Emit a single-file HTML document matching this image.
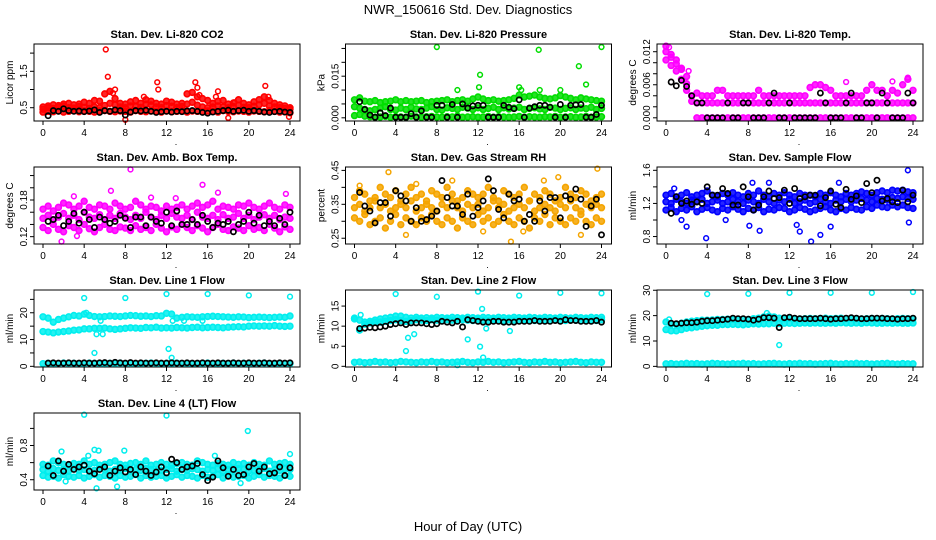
<!DOCTYPE html>
<html><head><meta charset="utf-8">
<style>
html,body{margin:0;padding:0;background:#fff;}
svg{display:block;font-family:"Liberation Sans",sans-serif;}
</style></head>
<body>
<svg id="chart" width="936" height="540" viewBox="0 0 936 540" xmlns="http://www.w3.org/2000/svg">
<rect x="0" y="0" width="936" height="540" fill="#fff"/>
<text x="468" y="14" text-anchor="middle" font-size="13">NWR_150616  Std. Dev. Diagnostics</text>
<text x="468" y="531" text-anchor="middle" font-size="13">Hour of Day (UTC)</text>
</svg>
<script>
const H = [0,0.5,1,1.5,2,2.5,3,3.5,4,4.5,5,5.5,6,6.5,7,7.5,8,8.5,9,9.5,10,10.5,11,11.5,12,12.5,13,13.5,14,14.5,15,15.5,16,16.5,17,17.5,18,18.5,19,19.5,20,20.5,21,21.5,22,22.5,23,23.5,24];
const xTicks = [0,4,8,12,16,20,24];

// P1 CO2
const co2R1 = [.38,.40,.39,.41,.38,.40,.42,.39,.41,.40,.38,.41,.42,.40,.39,.41,.40,.38,.42,.40,.39,.41,.40,.38,.41,.39,.40,.42,.38,.41,.40,.39,.41,.40,.38,.42,.40,.39,.41,.40,.38,.41,.40,.39,.42,.40,.38,.39,.36];
const co2R2 = [.46,.50,.48,.52,.55,.50,.49,.53,.51,.48,.52,.50,.56,.62,.58,.52,.50,.55,.53,.51,.60,.58,.52,.50,.56,.54,.50,.53,.60,.65,.57,.52,.50,.52,.55,.52,.50,.53,.57,.51,.50,.54,.58,.62,.55,.52,.50,.48,.46];
const co2R3 = [.52,.55,.58,.56,.60,.62,.58,.60,.65,.62,.70,.68,.88,.95,.75,.62,.60,.66,.70,.62,.72,.68,.62,.60,.68,.65,.60,.62,.88,.92,.80,.75,.70,.62,.68,.70,.60,.63,.72,.62,.58,.66,.72,.80,.70,.62,.58,.55,.50];
const co2OutX = [6.1,6.3,7.0,6.8,11.1,11.2,14.8,15.0,15.2,17.0,16.8,18.6,21.6,21.9,8.0,18.0,23.9,9.8];
const co2OutY = [2.1,1.35,1.0,0.9,1.2,1.0,1.2,1.05,0.85,0.95,0.8,0.65,1.1,0.8,0.17,0.22,0.25,0.8];
const co2Black = [.28,.42,.40,.47,.42,.40,.41,.39,.41,.44,.37,.42,.40,.44,.42,.30,.38,.42,.41,.43,.40,.37,.39,.40,.38,.40,.39,.41,.42,.40,.37,.35,.38,.40,.42,.43,.40,.42,.43,.40,.42,.40,.38,.37,.39,.40,.38,.37];

// P2 Pressure
const prR1 = [.0008,.0012,.0006,.0004,.0002,.0003,.0005,.0002,.0004,.0003,.0002,.0006,.0003,.0002,.0004,.0005,.0003,.0002,.0004,.0003,.0006,.0002,.0003,.0004,.0002,.0003,.0005,.0002,.0004,.0003,.0002,.0003,.0005,.0002,.0004,.0003,.0002,.0004,.0003,.0005,.0002,.0003,.0004,.0002,.0003,.0005,.0002,.0003,.0004];
const prR2 = [.004,.0035,.003,.0025,.003,.0035,.004,.003,.0028,.0035,.003,.0038,.0032,.003,.0035,.004,.003,.0028,.0036,.0034,.003,.0038,.0035,.003,.0036,.003,.0034,.0038,.003,.0036,.0032,.0035,.0038,.003,.0034,.0036,.0032,.003,.0038,.0035,.003,.0034,.0036,.003,.0035,.0033,.0038,.003,.0034];
const prR3 = [.0065,.0072,.006,.0058,.0062,.0055,.0058,.006,.0065,.0058,.0062,.0058,.006,.0062,.0055,.0058,.006,.0062,.0065,.0058,.0062,.0065,.006,.0068,.0075,.0068,.0062,.0065,.006,.0062,.0065,.007,.0082,.0075,.0078,.0082,.0075,.007,.0068,.0072,.008,.0075,.007,.0065,.0072,.0068,.0065,.0062,.006];
const prOutX = [8,17.9,21.8,24,12.2,16,12.1,22.5,16.2,18,20,10];
const prOutY = [.0255,.0245,.0186,.0255,.0155,.011,.011,.012,.010,.010,.010,.010];
const prBlack = [.0058,.003,.001,.0002,.0018,.0008,.0035,.0002,.0002,.0002,.0015,.0002,.0025,.0002,.0002,.0045,.0045,.0002,.0048,.0002,.005,.0035,.0043,.0045,.0045,.0002,.0002,.0002,.0045,.0038,.0033,.0065,.0002,.0035,.004,.0045,.0045,.0038,.0002,.0048,.0002,.0045,.0047,.0048,.0002,.0002,.0012,.0045];

// P3 Li-820 Temp
const tmR1 = [.0105,.0095,.0085,.007,.005,.003,0,0,0,0,0,0,0,0,0,0,0,0,0,0,0,0,0,0,0,0,0,0,0,0,0,0,0,0,0,0,0,0,0,0,0,0,0,0,0,0,0,0,0];
const tmR2 = [.012,.011,.0098,.0088,.0062,.004,.0027,.0027,.0027,.0027,.0027,.0027,.0027,.0027,.0027,.0027,.0027,.0027,.0027,.0027,.0027,.0027,.0027,.0027,.0027,.0027,.0027,.0027,.0027,.0027,.0027,.0027,.0027,.0027,.0027,.0027,.0027,.0027,.0027,.0027,.0027,.0027,.0027,.0027,.0027,.0027,.0027,.0027,.0027];
const tmR3 = [.013,.0115,.0105,.009,.0075,.004,.0045,.004,.004,.004,.005,.005,.004,.004,.004,.004,.004,.004,.005,.004,.004,.004,.004,.004,.004,.004,.004,.004,.0055,.006,.006,.0055,.005,.004,.004,.004,.004,.004,.004,.005,.006,.005,.005,.004,.005,.0045,.006,.007,.005];
const tmOutX = [0.3,2.2,17.5,22,23.5];
const tmOutY = [.0128,.0085,.0065,.0066,.0073];
const tmBlack = [.0065,.0058,.0068,.0057,.004,.0027,.0027,0,0,0,0,.0027,0,0,.0027,.0027,0,0,0,.0027,.0045,0,0,.0027,0,0,0,0,0,.0045,.0027,0,0,0,.0027,.0045,0,0,.0027,.0027,0,.0045,.0027,0,0,0,.0045,.0027];

// P4 Amb Box Temp
const abR1 = [.135,.13,.14,.132,.128,.138,.135,.13,.14,.133,.128,.135,.14,.132,.13,.136,.134,.13,.138,.132,.135,.13,.14,.134,.128,.136,.132,.14,.135,.13,.138,.134,.128,.135,.14,.132,.13,.136,.134,.13,.138,.132,.135,.13,.14,.134,.128,.136,.132];
const abR2 = [.15,.155,.148,.152,.158,.15,.155,.148,.16,.152,.15,.156,.148,.155,.15,.158,.152,.148,.155,.15,.16,.152,.148,.155,.15,.158,.152,.15,.155,.148,.16,.152,.15,.155,.148,.156,.15,.152,.158,.15,.155,.148,.152,.156,.15,.155,.148,.152,.15];
const abR3 = [.165,.17,.162,.168,.175,.172,.165,.17,.178,.168,.165,.172,.17,.165,.175,.17,.165,.168,.178,.172,.165,.17,.168,.162,.17,.165,.168,.172,.165,.17,.175,.168,.172,.178,.165,.17,.168,.165,.172,.17,.175,.168,.165,.17,.175,.168,.165,.172,.168];
const abOutX = [8.5,15.5,1.8,3.3,6.6,12.9,17,23.6,3.0,10.5];
const abOutY = [.230,.205,.112,.121,.195,.183,.192,.190,.186,.184];
const abBlack = [.145,.148,.155,.138,.145,.158,.142,.16,.148,.135,.152,.148,.142,.145,.155,.15,.135,.152,.152,.138,.152,.145,.142,.16,.138,.162,.14,.14,.148,.14,.155,.145,.135,.142,.14,.145,.128,.14,.145,.16,.142,.155,.138,.145,.138,.15,.14,.16];

// P5 Gas Stream RH
const rhR1 = [.31,.30,.32,.29,.30,.31,.28,.30,.32,.29,.31,.30,.29,.31,.30,.32,.30,.29,.31,.30,.28,.31,.30,.29,.32,.30,.31,.29,.30,.32,.30,.29,.31,.30,.28,.31,.30,.32,.29,.31,.30,.29,.31,.30,.32,.30,.29,.31,.30];
const rhR2 = [.34,.35,.33,.34,.36,.34,.35,.33,.34,.35,.34,.36,.33,.34,.35,.34,.33,.35,.34,.36,.34,.33,.35,.34,.35,.33,.34,.36,.34,.35,.33,.34,.35,.34,.36,.33,.34,.35,.34,.33,.35,.34,.36,.34,.33,.35,.34,.35,.34];
const rhR3 = [.37,.39,.38,.36,.37,.40,.38,.37,.39,.36,.38,.40,.37,.38,.36,.39,.38,.37,.40,.38,.36,.37,.39,.38,.37,.38,.40,.37,.36,.39,.38,.37,.38,.40,.36,.38,.37,.39,.38,.36,.37,.40,.38,.37,.39,.38,.36,.37,.38];
const rhOutX = [0.5,3.3,5.0,12.5,15.2,19.8,23.6,22,9.5,16.4,6.0,18.4];
const rhOutY = [.405,.445,.26,.27,.24,.43,.455,.26,.42,.27,.41,.42];
const rhBlack = [.385,.345,.33,.295,.355,.355,.315,.39,.375,.36,.30,.34,.30,.305,.315,.33,.42,.37,.345,.345,.32,.38,.315,.34,.36,.425,.39,.335,.31,.38,.36,.365,.30,.32,.30,.36,.33,.37,.37,.31,.375,.365,.395,.365,.285,.345,.365,.26];

// P6 Sample Flow
const sfR1 = [1.12,1.15,1.10,1.14,1.12,1.16,1.10,1.13,1.15,1.12,1.10,1.14,1.12,1.16,1.13,1.10,1.14,1.12,1.15,1.10,1.13,1.12,1.15,1.14,1.10,1.12,1.15,1.13,1.10,1.12,1.14,1.16,1.12,1.10,1.14,1.12,1.15,1.13,1.12,1.16,1.14,1.18,1.16,1.15,1.18,1.16,1.18,1.15,1.14];
const sfR2 = [1.22,1.20,1.25,1.22,1.20,1.24,1.22,1.25,1.20,1.22,1.24,1.20,1.22,1.25,1.22,1.20,1.24,1.22,1.20,1.25,1.22,1.20,1.24,1.22,1.25,1.20,1.22,1.24,1.20,1.22,1.25,1.22,1.20,1.24,1.22,1.25,1.22,1.24,1.26,1.24,1.22,1.26,1.25,1.24,1.27,1.26,1.28,1.26,1.25];
const sfR3 = [1.30,1.32,1.28,1.30,1.33,1.28,1.30,1.32,1.35,1.30,1.28,1.32,1.30,1.33,1.30,1.28,1.32,1.30,1.35,1.30,1.28,1.32,1.30,1.33,1.30,1.28,1.32,1.30,1.30,1.28,1.32,1.30,1.33,1.30,1.28,1.32,1.30,1.32,1.34,1.32,1.30,1.33,1.35,1.33,1.36,1.35,1.36,1.34,1.33];
const sfOutX = [3.9,8.1,9.1,14.1,15.0,16.0,12.7,13.0,23.5,23.6,0.8,2.0,8.4,10.0,16.8,1.5,5.8];
const sfOutY = [0.78,0.93,0.87,0.74,0.82,0.92,0.94,0.86,1.6,0.97,1.38,0.92,1.45,1.45,1.45,1.0,1.0];
const sfBlack = [1.08,1.28,1.20,1.23,1.19,1.22,1.20,1.40,1.30,1.30,1.38,1.32,1.18,1.18,1.40,1.28,1.12,1.18,1.28,1.35,1.26,1.27,1.36,1.20,1.38,1.26,1.28,1.30,1.30,1.17,1.27,1.35,1.19,1.15,1.37,1.25,1.29,1.21,1.44,1.33,1.48,1.23,1.26,1.22,1.21,1.36,1.22,1.30];

// P7 Line 1 Flow
const l1R1 = [1.0,1.1,0.9,1.0,1.2,1.0,1.1,0.9,1.0,1.2,1.1,1.0,0.9,1.1,1.0,1.2,1.0,1.1,0.9,1.0,1.1,1.2,1.0,0.9,1.1,1.0,1.2,1.0,1.1,0.9,1.0,1.1,1.2,1.0,0.9,1.1,1.0,1.2,1.0,1.1,0.9,1.0,1.1,1.2,1.0,0.9,1.1,1.0,1.0];
const l1R2 = [13,12.8,12.5,12.8,13,13.2,13.5,13.6,14,14,14.2,14.2,14.3,14,13.8,14,14.2,14.4,14.3,14.2,14.5,14.4,14.6,14.3,14.4,14.3,14.5,14.4,14.3,14.5,14.6,14.4,14.5,14.6,14.5,14.4,14.6,14.7,14.8,14.7,15,15.1,15,15.1,15,15.2,15,14.9,15];
const l1R3 = [18.5,18,16.5,17.5,18,18.5,19,18.8,19.5,19,18.6,18.5,18.6,18.8,18.7,18.6,18.8,19,18.9,18.7,18.8,18.6,18.9,18.8,19.8,19.5,18,18.3,18.5,18.4,18.3,18.5,18.6,18.7,18.6,18.5,18.4,18.3,18.5,18.4,18.2,18.3,18.4,18.3,18.2,18.3,18.4,18.3,18.8];
const l1OutX = [4,8,12,16,20,24,5,12.2,12.5,5.2,5.8,5.6,12.6,15.5,13.7,4.2];
const l1OutY = [25.5,25.5,27,27,26.5,26,5,6.5,3.2,12,12,17,17,17,17,20];
const l1Black = [1.2,1.3,1.2,1.2,1.3,1.2,1.2,1.3,1.2,1.2,1.3,1.4,1.2,1.5,1.3,1.2,1.4,1.2,1.3,1.2,1.2,1.3,1.2,1.2,1.3,1.2,1.2,1.3,1.2,1.2,1.3,1.2,1.2,1.3,1.2,1.2,1.3,1.2,1.2,1.3,1.2,1.2,1.3,1.2,1.2,1.3,1.2,1.3];

// P8 Line 2 Flow
const l2R1 = [1.0,1.1,0.9,1.0,1.2,1.0,1.1,0.9,1.0,1.2,1.1,1.0,0.9,1.1,1.0,1.2,1.0,1.1,0.9,1.0,1.1,1.2,1.0,0.9,1.1,1.0,1.2,1.0,1.1,0.9,1.0,1.1,1.2,1.0,0.9,1.1,1.0,1.2,1.0,1.1,0.9,1.0,1.1,1.2,1.0,0.9,1.1,1.0,1.0];
const l2R2 = [12,11.5,11,11.2,11.5,11.8,12,12.2,12.5,12.5,12.2,12,12.2,12,12.1,12,12.2,12.1,12,12.2,12.1,12,12.2,12.1,12,12.2,12.1,12,12.2,12.1,12,12.2,12.1,12,12.2,12.1,12,12.2,12.1,12,12.2,12.1,12,12.2,12.1,12,12.2,12.1,12.2];
const l2R3 = [11.8,9,10.5,10.8,11,11,11.2,11.4,11.6,11.4,11.2,11.4,11.6,11.5,11.4,11.6,11.5,11.4,11.6,11.5,11.4,11.6,11.5,11.4,11.6,11.5,11.4,11.6,11.5,11.4,11.6,11.5,11.4,11.6,11.5,11.4,11.6,11.5,11.4,11.6,11.5,11.4,11.6,11.5,11.4,11.6,11.5,11.4,11.6];
const l2OutX = [4,8,12,16,20,24,5,5.2,5.8,11,12.2,12.5,12.4,12.8,15.1,10,0.6];
const l2OutY = [18,17.3,18.6,17.6,18.3,18.2,3.8,7.1,8,6.7,4.9,2.2,14.3,9.4,8.8,0.3,12.8];
const l2Black = [9.4,9.5,9.7,9.6,9.8,10.0,10.4,10.6,10.8,10.4,10.8,10.8,10.8,10.6,10.4,10.6,11.2,11.0,10.8,11.2,9.8,11.6,11.4,11.2,11.0,11.0,11.2,11.2,11.0,11.0,11.0,11.2,11.2,11.2,11.4,11.2,11.2,11.2,11.4,11.2,11.6,11.4,11.4,11.2,11.2,11.2,11.4,11.0];

// P9 Line 3 Flow
const l3R1 = [1.0,1.1,0.9,1.0,1.2,1.0,1.1,0.9,1.0,1.2,1.1,1.0,0.9,1.1,1.0,1.2,1.0,1.1,0.9,1.0,1.1,1.2,1.0,0.9,1.1,1.0,1.2,1.0,1.1,0.9,1.0,1.1,1.2,1.0,0.9,1.1,1.0,1.2,1.0,1.1,0.9,1.0,1.1,1.2,1.0,0.9,1.1,1.0,1.0];
const l3R2 = [14.5,14,14,14.5,15,15.2,15.5,15.8,16,16.2,16.2,16.5,16.5,16.6,16.5,16.4,16.6,16.8,16.7,16.8,16.8,17,16.9,17,17,16.9,17,17.1,17,17.1,17,17,17.1,17,17.2,17.1,17,17.1,17,17.2,17.1,17,17,17.1,17,17.1,17,17,17.1];
const l3R3 = [17.5,16.5,16.5,17,17.5,17.8,18,18.2,18.2,18.3,18.5,18.5,18.6,18.5,18.4,18.6,18.5,18.8,19,19.5,19.8,19.5,19,18.8,19,18.8,18.7,18.8,18.9,18.8,18.9,19,18.8,18.9,19,18.8,18.9,18.8,18.7,18.8,18.9,18.8,18.9,18.8,18.7,18.8,18.9,18.8,18.8];
const l3OutX = [4,8,12,16,20,24,11,9.8,0.3];
const l3OutY = [28.5,28.6,29,29,29,29.3,8.4,21,18.5];
const l3Black = [17,16.8,17,17.2,17.2,17.4,17.8,18,18,18.2,18.4,18.6,19,18.8,18.8,18.6,18.2,18.6,19.2,19.2,19.0,15.3,19.2,19.4,19.0,18.8,18.8,18.8,18.8,19.0,18.8,18.6,18.8,18.8,19.0,19.2,19.0,18.8,18.8,19.0,19.0,19.0,18.8,18.8,18.6,18.8,18.8,19.0];

// P10 Line 4 (LT) Flow
const l4R1 = [.45,.43,.44,.42,.46,.44,.43,.45,.42,.44,.46,.43,.45,.44,.42,.45,.43,.44,.46,.42,.45,.43,.44,.45,.42,.44,.46,.43,.45,.44,.42,.45,.43,.44,.46,.42,.45,.43,.44,.45,.42,.44,.46,.43,.45,.44,.42,.45,.44];
const l4R2 = [.52,.50,.53,.51,.52,.50,.53,.51,.52,.50,.51,.53,.52,.50,.52,.51,.53,.50,.52,.51,.53,.52,.50,.51,.52,.53,.50,.52,.51,.53,.52,.50,.52,.51,.53,.50,.52,.51,.53,.52,.50,.51,.52,.53,.50,.52,.51,.53,.52];
const l4R3 = [.58,.57,.62,.60,.58,.57,.59,.58,.62,.58,.60,.57,.58,.60,.62,.58,.57,.59,.60,.58,.62,.57,.58,.60,.58,.57,.59,.60,.58,.57,.62,.60,.58,.57,.59,.58,.57,.60,.58,.59,.57,.60,.58,.57,.62,.58,.59,.60,.58];
const l4OutX = [4,12,19.9,5.2,7.2,1.8,5,5.4,7.9,16.7,24,4.4,2.2,19.2];
const l4OutY = [1.16,1.15,0.97,0.30,0.32,0.73,0.75,0.74,0.74,0.68,0.70,0.68,0.38,0.36];
const l4Black = [.56,.45,.62,.5,.58,.52,.55,.57,.5,.47,.52,.55,.45,.5,.54,.49,.52,.46,.55,.5,.45,.49,.55,.48,.64,.6,.52,.55,.56,.59,.46,.39,.43,.62,.54,.44,.52,.45,.46,.55,.59,.5,.55,.47,.48,.55,.45,.54];

const NS = "http://www.w3.org/2000/svg";
const svg = document.getElementById('chart');
const colLeft = [34, 345.5, 657];
const rowTop = [44, 167, 290, 413];
const PW = 266, PH = 77;

function mk(tag, attrs, parent){
  const e = document.createElementNS(NS, tag);
  for (const k in attrs) e.setAttribute(k, attrs[k]);
  (parent || svg).appendChild(e);
  return e;
}

function panel(o){
  const L = colLeft[o.col], T = rowTop[o.row];
  const g = mk('g', {});
  
  
  const sx = h => L + 9 + h * (247 / 24);
  const sy = v => T + PH - (v - o.ymin) / (o.ymax - o.ymin) * PH;
  const t = mk('text', {x: L + PW / 2, y: T - 6, 'text-anchor': 'middle', 'font-size': 11, 'font-weight': 'bold'}, g);
  t.textContent = o.title;
  
  
  const yl = mk('text', {x: 0, y: 0, 'text-anchor': 'middle', 'font-size': 10, transform: 'translate(' + (L - 21) + ',' + (T + PH / 2) + ') rotate(-90)'}, g);
  yl.textContent = o.ylabel;
  
  
  const pts = mk('g', {}, g);
  
  
  o.rows.forEach(r => {
    for (let i = 0; i < r.length && i < H.length; i++) {
      const y = sy(r[i]);
      if (y < T - 1 || y > T + PH + 1) continue;
      const c = mk('circle', {cx: sx(H[i]), cy: y, r: 2.9, fill: o.color, 'fill-opacity': 0.85, stroke: o.color, 'stroke-width': 1.6}, pts);
      
      
    }
  });
  for (let i = 0; i < o.outX.length; i++) {
    const c = mk('circle', {cx: sx(o.outX[i]), cy: sy(o.outY[i]), r: 2.4, fill: 'none', stroke: o.color, 'stroke-width': 1.5}, pts);
    
    
  }
  const bl = mk('g', {}, g);
  
  
  for (let i = 0; i < o.black.length; i++) {
    const c = mk('circle', {cx: sx((i + 1) * 0.5), cy: sy(o.black[i]), r: 2.6, fill: 'none', stroke: '#000', 'stroke-width': 1.7}, bl);
    
    
  }
  const b = mk('rect', {x: L, y: T, width: PW, height: PH, fill: 'none', stroke: '#000', 'stroke-width': 1}, g);
  
  
  mk('line', {x1: sx(0), x2: sx(24), y1: T + PH, y2: T + PH, stroke: '#000'}, g);
  xTicks.forEach(v => {
    mk('line', {x1: sx(v), x2: sx(v), y1: T + PH, y2: T + PH + 4, stroke: '#000'}, g);
    const tl = mk('text', {x: sx(v), y: T + PH + 15, 'text-anchor': 'middle', 'font-size': 10}, g);
    tl.textContent = String(v);
    
    
  });
  const dot = mk('text', {x: L + 142, y: T + PH + 24, 'text-anchor': 'middle', 'font-size': 9}, g);
  dot.textContent = '.';
  o.yTicks.forEach((v, i) => {
    const y = sy(v);
    mk('line', {x1: L - 4, x2: L, y1: y, y2: y, stroke: '#000'}, g);
    if (o.yLabels[i]) {
      const tl = mk('text', {x: 0, y: 0, 'text-anchor': 'middle', 'font-size': 10, transform: 'translate(' + (L - 7) + ',' + y + ') rotate(-90)'}, g);
      tl.textContent = o.yLabels[i];
      
      
    }
  });
}

panel({name:'panel-co2', col:0,row:0,title:'Stan. Dev. Li-820 CO2',ylabel:'Licor ppm',color:'#ff0000',ymin:.135,ymax:2.25,rows:[co2R1,co2R2,co2R3],outX:co2OutX,outY:co2OutY,black:co2Black,yTicks:[.5,1,1.5,2],yLabels:['0.5','','1.5','']});
panel({name:'panel-pressure', col:1,row:0,title:'Stan. Dev. Li-820 Pressure',ylabel:'kPa',color:'#00dd00',ymin:-.00115,ymax:.0266,rows:[prR1,prR2,prR3],outX:prOutX,outY:prOutY,black:prBlack,yTicks:[0,.005,.01,.015,.02,.025],yLabels:['0.000','','','0.015','','']});
panel({name:'panel-li820-temp', col:2,row:0,title:'Stan. Dev. Li-820 Temp.',ylabel:'degrees C',color:'#ff00ff',ymin:-.00058,ymax:.0134,rows:[tmR1,tmR2,tmR3],outX:tmOutX,outY:tmOutY,black:tmBlack,yTicks:[0,.002,.004,.006,.008,.01,.012],yLabels:['0.000','','','0.006','','','0.012']});
panel({name:'panel-amb-box-temp', col:0,row:1,title:'Stan. Dev. Amb. Box Temp.',ylabel:'degrees C',color:'#ff00ff',ymin:.108,ymax:.234,rows:[abR1,abR2,abR3],outX:abOutX,outY:abOutY,black:abBlack,yTicks:[.12,.14,.16,.18,.2,.22],yLabels:['0.12','','','0.18','','']});
panel({name:'panel-gas-stream-rh', col:1,row:1,title:'Stan. Dev. Gas Stream RH',ylabel:'percent',color:'#f5a500',ymin:.233,ymax:.46,rows:[rhR1,rhR2,rhR3],outX:rhOutX,outY:rhOutY,black:rhBlack,yTicks:[.25,.3,.35,.4,.45],yLabels:['0.25','','0.35','','0.45']});
panel({name:'panel-sample-flow', col:2,row:1,title:'Stan. Dev. Sample Flow',ylabel:'ml/min',color:'#0000ff',ymin:.71,ymax:1.64,rows:[sfR1,sfR2,sfR3],outX:sfOutX,outY:sfOutY,black:sfBlack,yTicks:[.8,1,1.2,1.4,1.6],yLabels:['0.8','','1.2','','1.6']});
panel({name:'panel-line1-flow', col:0,row:2,title:'Stan. Dev. Line 1 Flow',ylabel:'ml/min',color:'#00eeee',ymin:-.25,ymax:28.5,rows:[l1R1,l1R2,l1R3],outX:l1OutX,outY:l1OutY,black:l1Black,yTicks:[0,5,10,15,20,25],yLabels:['0','','10','','20','']});
panel({name:'panel-line2-flow', col:1,row:2,title:'Stan. Dev. Line 2 Flow',ylabel:'ml/min',color:'#00eeee',ymin:-.17,ymax:19,rows:[l2R1,l2R2,l2R3],outX:l2OutX,outY:l2OutY,black:l2Black,yTicks:[0,5,10,15],yLabels:['0','5','10','15']});
panel({name:'panel-line3-flow', col:2,row:2,title:'Stan. Dev. Line 3 Flow',ylabel:'ml/min',color:'#00eeee',ymin:-.25,ymax:30.1,rows:[l3R1,l3R2,l3R3],outX:l3OutX,outY:l3OutY,black:l3Black,yTicks:[0,10,20,30],yLabels:['0','10','20','30']});
panel({name:'panel-line4-flow', col:0,row:3,title:'Stan. Dev. Line 4 (LT) Flow',ylabel:'ml/min',color:'#00eeee',ymin:.28,ymax:1.18,rows:[l4R1,l4R2,l4R3],outX:l4OutX,outY:l4OutY,black:l4Black,yTicks:[.4,.6,.8,1.0],yLabels:['0.4','','0.8','']});
</script>
</body></html>
